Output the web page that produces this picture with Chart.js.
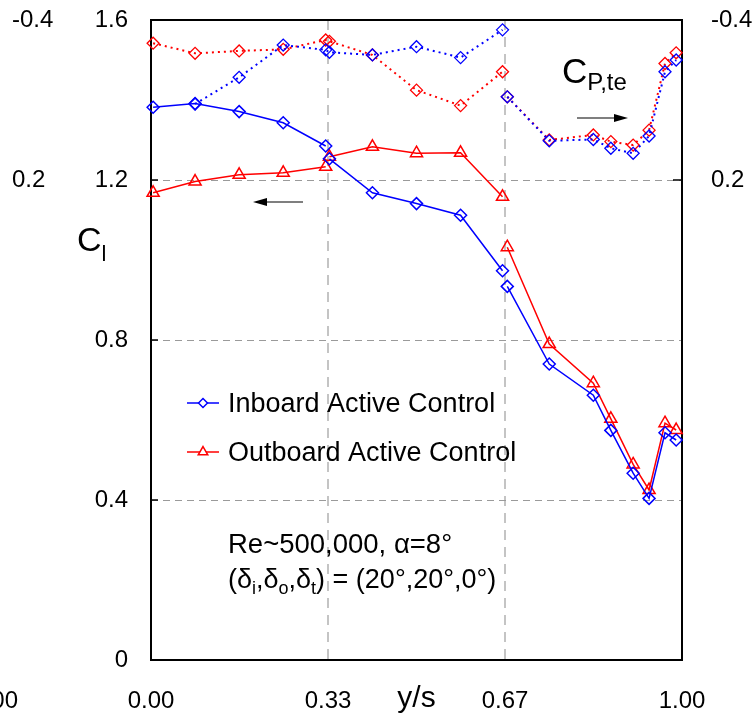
<!DOCTYPE html>
<html>
<head>
<meta charset="utf-8">
<script src="https://cdn.jsdelivr.net/npm/chart.js@4.4.1/dist/chart.umd.min.js"></script>
<style>
    html, body { margin: 0; padding: 0; background: #fff; }
    #contenedor { width: 756px; height: 723px; }
</style>
</head>
<body>
<div id="contenedor"><canvas id="grafico" width="756" height="723"></canvas></div>
<script>
// posiciones en envergadura (y/s)
const posX = [0.004, 0.083, 0.166, 0.249, 0.329, 0.336, 0.417, 0.500, 0.583, 0.662, 0.671, 0.750, 0.833, 0.866, 0.908, 0.938, 0.968, 0.989];

// coeficiente de sustentación local
const clInboard  = [1.382, 1.391, 1.371, 1.343, 1.285, 1.253, 1.168, 1.141, 1.112, 0.973, 0.934, 0.740, 0.662, 0.574, 0.467, 0.404, 0.568, 0.550];
const clOutboard = [1.168, 1.196, 1.213, 1.218, 1.233, 1.258, 1.283, 1.267, 1.268, 1.158, 1.032, 0.790, 0.692, 0.603, 0.489, 0.425, 0.592, 0.575];

// presión en el borde de fuga
const cpInboard  = [null, -0.085, -0.185, -0.306, -0.288, -0.279, -0.269, -0.300, -0.259, -0.363, -0.112, 0.053, 0.048, 0.081, 0.100, 0.035, -0.206, -0.250];
const cpOutboard = [-0.313, -0.275, -0.284, -0.290, -0.325, -0.320, -0.269, -0.137, -0.079, -0.206, -0.112, 0.050, 0.031, 0.056, 0.069, 0.013, -0.237, -0.277];

// límites de los flaps (la línea se corta ahí)
const cortesCl = [1 / 3, 2 / 3];
const cortesCp = [2 / 3];

const ticksX = [0, 1 / 3, 2 / 3, 1];
const etiquetasX = ["0.00", "0.33", "0.67", "1.00"];
const ticksCl = [0, 0.4, 0.8, 1.2, 1.6];
const etiquetasCl = ["0", "0.4", "0.8", "1.2", "1.6"];
const ticksCp = [-0.4, 0.2];
const etiquetasCp = ["-0.4", "0.2"];

const nombres = ["Inboard Active Control", "Outboard Active Control"];

const AZUL = "#0000ff";
const ROJO = "#ff0000";
const FUENTE = "'Liberation Sans', Arial, sans-serif";

function serie(valores, cortes) {
    const puntos = [];
    posX.forEach((x, i) => {
        cortes.forEach(c => {
            if (i > 0 && posX[i - 1] < c && x > c) puntos.push({ x: c, y: null });
        });
        puntos.push({ x: x, y: valores[i] });
    });
    return puntos;
}

function textoSub(ctx, partes, x, base, tam, tamSub, bajada) {
    partes.forEach(([txt, sub]) => {
        ctx.font = (sub ? tamSub : tam) + "px " + FUENTE;
        ctx.fillText(txt, x, base + (sub ? bajada : 0));
        x += ctx.measureText(txt).width;
    });
}

function flecha(ctx, x1, y, x2) {
    const dir = Math.sign(x2 - x1);
    ctx.beginPath();
    ctx.moveTo(x1, y);
    ctx.lineTo(x2 - dir * 10, y);
    ctx.stroke();
    ctx.beginPath();
    ctx.moveTo(x2, y);
    ctx.lineTo(x2 - dir * 14, y - 4);
    ctx.lineTo(x2 - dir * 14, y + 4);
    ctx.closePath();
    ctx.fill();
}

// el padding de los ticks no debe empujar el área del gráfico
function ajusteVertical(ancho) {
    return s => {
        s.width = ancho;
        s.paddingTop = 0;
        s.paddingBottom = 0;
    };
}

const extras = {
    id: "extras",
    beforeDatasetsDraw(chart) {
        const { ctx, chartArea: a } = chart;
        const yCl = chart.scales.y;
        const yCp = chart.scales.yCp;
        ctx.save();
        ctx.strokeStyle = "#000";
        ctx.lineWidth = 2;
        ctx.strokeRect(a.left, a.top, a.right - a.left, a.bottom - a.top);
        ctx.lineWidth = 1.5;
        ticksCl.forEach(v => {
            if (v <= 0 || v >= 1.6) return;
            const p = yCl.getPixelForValue(v);
            ctx.beginPath();
            ctx.moveTo(a.left, p);
            ctx.lineTo(a.left + 7, p);
            ctx.stroke();
        });
        const p2 = yCp.getPixelForValue(0.2);
        ctx.beginPath();
        ctx.moveTo(a.right - 9, p2);
        ctx.lineTo(a.right, p2);
        ctx.stroke();
        ctx.restore();
    },
    afterDraw(chart) {
        const ctx = chart.ctx;
        ctx.save();
        ctx.fillStyle = "#000";
        ctx.strokeStyle = "#000";
        ctx.textBaseline = "alphabetic";
        ctx.textAlign = "left";

        // títulos de ejes
        textoSub(ctx, [["C", false], ["l", true]], 77, 251, 34, 22, 10);
        textoSub(ctx, [["C", false], ["P,te", true]], 562, 83, 35, 24, 7);

        // resto de un eje recortado
        ctx.font = "24px " + FUENTE;
        ctx.textAlign = "right";
        ctx.fillText("1.00", 18, 708);
        ctx.textAlign = "left";

        // flechas
        ctx.lineWidth = 1.2;
        flecha(ctx, 303, 202, 253);
        flecha(ctx, 577, 118, 628);

        // leyenda
        const filas = [
            { y: 403, color: AZUL, estilo: "rectRot", r: 4.5 },
            { y: 452, color: ROJO, estilo: "triangle", r: 5.5 }
        ];
        filas.forEach((f, i) => {
            ctx.strokeStyle = f.color;
            ctx.lineWidth = 1.5;
            ctx.beginPath();
            ctx.moveTo(187, f.y);
            ctx.lineTo(219, f.y);
            ctx.stroke();
            ctx.fillStyle = "#fff";
            Chart.helpers.drawPoint(ctx, { pointStyle: f.estilo, radius: f.r, rotation: 0, borderWidth: 1.5 }, 203, f.y);
            ctx.fillStyle = "#000";
            ctx.font = "27px " + FUENTE;
            ctx.fillText(nombres[i], 228, f.y + 9);
        });

        // condiciones del ensayo
        ctx.fillStyle = "#000";
        textoSub(ctx, [["Re~500,000, \u03b1=8\u00b0", false]], 228, 553, 27.5, 18, 6);
        textoSub(ctx, [
            ["(\u03b4", false], ["i", true], [",\u03b4", false], ["o", true],
            [",\u03b4", false], ["t", true], [") = (20\u00b0,20\u00b0,0\u00b0)", false]
        ], 228, 588, 27, 18, 6);
        ctx.restore();
    }
};

const fuenteTicks = { family: FUENTE, size: 24 };

new Chart(document.getElementById("grafico"), {
    type: "line",
    data: {
        datasets: [
            {
                label: "Cp inboard",
                data: serie(cpInboard, cortesCp),
                yAxisID: "yCp",
                borderColor: AZUL,
                borderWidth: 2,
                borderDash: [2, 4],
                pointStyle: "rectRot",
                pointRadius: 6,
                pointBorderWidth: 1.3,
                pointBorderColor: AZUL,
                pointBackgroundColor: "rgba(0,0,0,0)",
                clip: false
            },
            {
                label: "Cp outboard",
                data: serie(cpOutboard, cortesCp),
                yAxisID: "yCp",
                borderColor: ROJO,
                borderWidth: 2,
                borderDash: [2, 4],
                pointStyle: "rectRot",
                pointRadius: 6,
                pointBorderWidth: 1.3,
                pointBorderColor: ROJO,
                pointBackgroundColor: "rgba(0,0,0,0)",
                clip: false
            },
            {
                label: nombres[0],
                data: serie(clInboard, cortesCl),
                yAxisID: "y",
                borderColor: AZUL,
                borderWidth: 1.5,
                pointStyle: "rectRot",
                pointRadius: 6,
                pointBorderWidth: 1.5,
                pointBorderColor: AZUL,
                pointBackgroundColor: "rgba(0,0,0,0)",
                clip: false
            },
            {
                label: nombres[1],
                data: serie(clOutboard, cortesCl),
                yAxisID: "y",
                borderColor: ROJO,
                borderWidth: 1.5,
                pointStyle: "triangle",
                pointRadius: 7,
                pointBorderWidth: 1.5,
                pointBorderColor: ROJO,
                pointBackgroundColor: "rgba(0,0,0,0)",
                clip: false
            }
        ]
    },
    options: {
        responsive: false,
        animation: false,
        spanGaps: false,
        layout: { padding: { left: 12, top: 20, right: 0, bottom: 0 } },
        plugins: { legend: { display: false }, tooltip: { enabled: false } },
        scales: {
            x: {
                type: "linear",
                min: 0,
                max: 1,
                afterBuildTicks: s => { s.ticks = ticksX.map(v => ({ value: v })); },
                afterFit: s => { s.height = 63; },
                ticks: {
                    callback: (v, i) => etiquetasX[i],
                    font: fuenteTicks,
                    color: "#000",
                    padding: 27,
                    maxRotation: 0
                },
                grid: {
                    drawTicks: false,
                    lineWidth: 2,
                    color: c => (c.tick && (c.tick.value === 0 || c.tick.value === 1)) ? "rgba(0,0,0,0)" : "#c4c4c4"
                },
                border: { display: false, dash: [10, 7] },
                title: {
                    display: true,
                    text: "y/s",
                    font: { family: FUENTE, size: 30 },
                    color: "#000",
                    padding: { top: 0, bottom: 6 }
                }
            },
            y: {
                position: "left",
                min: 0,
                max: 1.6,
                weight: 0,
                afterBuildTicks: s => { s.ticks = ticksCl.map(v => ({ value: v })); },
                afterFit: ajusteVertical(81),
                ticks: {
                    callback: (v, i) => etiquetasCl[i],
                    font: fuenteTicks,
                    color: "#000",
                    padding: 23
                },
                grid: {
                    drawTicks: false,
                    lineWidth: 1,
                    color: c => (c.tick && (c.tick.value === 0 || c.tick.value === 1.6)) ? "rgba(0,0,0,0)" : "#9a9a9a"
                },
                border: { display: false, dash: [7, 5] }
            },
            yCp: {
                position: "right",
                reverse: true,
                min: -0.4,
                max: 2.0,
                afterBuildTicks: s => { s.ticks = ticksCp.map(v => ({ value: v })); },
                afterFit: ajusteVertical(74),
                ticks: {
                    callback: (v, i) => etiquetasCp[i],
                    font: fuenteTicks,
                    color: "#000",
                    padding: 21
                },
                grid: { display: false },
                border: { display: false }
            },
            yCpIzq: {
                position: "left",
                reverse: true,
                min: -0.4,
                max: 2.0,
                weight: 1,
                afterBuildTicks: s => { s.ticks = ticksCp.map(v => ({ value: v })); },
                afterFit: ajusteVertical(58),
                ticks: {
                    callback: (v, i) => etiquetasCp[i],
                    font: fuenteTicks,
                    color: "#000",
                    crossAlign: "far",
                    padding: 0
                },
                grid: { display: false },
                border: { display: false }
            }
        }
    },
    plugins: [extras]
});
</script>
</body>
</html>
